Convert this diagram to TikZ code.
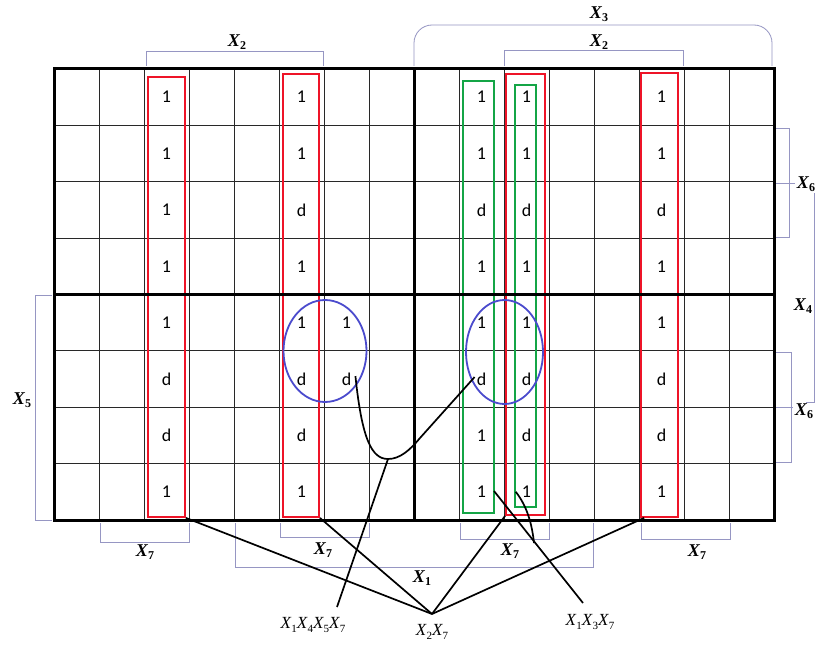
\documentclass[tikz,border=0pt]{standalone}
\usepackage{fontspec}
\usetikzlibrary{shapes.geometric,fit}
\newfontfamily\cellfont{Carlito}
\newfontfamily\labfont{Liberation Serif}
\newcommand{\kvar}[1]{{\labfont\bfseries\itshape X}\kern0.3pt\raisebox{-3.5pt}{\labfont\bfseries\fontsize{12}{12}\selectfont #1}}
\newcommand{\tvar}[1]{{\labfont\itshape X}\kern0.3pt\raisebox{-3.5pt}{\labfont\fontsize{11}{11}\selectfont #1}}
\definecolor{kred}{RGB}{238,20,40}
\definecolor{kgreen}{RGB}{20,165,70}
\definecolor{kblue}{RGB}{75,75,205}
\definecolor{kbrk}{RGB}{150,150,195}
\definecolor{kgrid}{RGB}{40,40,40}
\begin{document}
\begin{tikzpicture}[x=1pt,y=-1pt,
  thinline/.style={line width=0.9pt, draw=kgrid},
  thickline/.style={line width=3pt, draw=black},
  cell/.style={font=\cellfont\fontsize{18}{18}\selectfont, inner sep=1pt},
  redbox/.style={draw=kred, line width=1.8pt, inner sep=0pt},
  greenbox/.style={draw=kgreen, line width=1.8pt, inner sep=0pt},
  blueoval/.style={draw=kblue, ellipse, line width=1.8pt, inner sep=0pt},
  brk/.style={draw=kbrk, line width=0.8pt},
  lab/.style={font=\fontsize{18}{18}\selectfont, inner sep=1pt},
  termlab/.style={font=\fontsize{17}{17}\selectfont, inner sep=1pt},
  conn/.style={line width=1.7pt, draw=black}]
\useasboundingbox (0,0) rectangle (817,650);
\fill[white] (0,0) rectangle (817,650);

% thin grid
\foreach \i in {1,...,7,9,10,...,15} \draw[thinline] ({54+45*\i},69) -- ({54+45*\i},520);
\foreach \j in {1,2,3,5,6,7} \draw[thinline] (54,{69+56.375*\j}) -- (774,{69+56.375*\j});

% cell entries
\foreach \col/\vals in {2/{1,1,1,1,1,d,d,1},5/{1,1,d,1,1,d,d,1},9/{1,1,d,1,1,d,1,1},10/{1,1,d,1,1,d,d,1},13/{1,1,d,1,1,d,d,1}}{
  \foreach \v [count=\r from 0] in \vals
    \node[cell] (c\col-\r) at ({76.5+45*\col},{69+56.375*(\r+0.5)}) {\v};
}
\node[cell] (c6-4) at ({76.5+45*6},{69+56.375*4.5}) {1};
\node[cell] (c6-5) at ({76.5+45*6},{69+56.375*5.5}) {d};

% group boxes
\node[redbox, fit={(148,77) (185,517)}] (r1) {};
\node[redbox, fit={(283,74) (319,517)}] (r2) {};
\node[redbox, fit={(506,74) (545,515)}] (r3) {};
\node[redbox, fit={(641,73) (678,517)}] (r4) {};
\node[greenbox, fit={(463,81) (494,513)}] (g1) {};
\node[greenbox, fit={(515,85) (536,507)}] (g2) {};
\node[blueoval, minimum width=83pt, minimum height=102pt] (e1) at (325,351) {};
\node[blueoval, minimum width=77pt, minimum height=104pt] (e2) at (504.5,352) {};

% thick lines
\draw[thickline] (414,69) -- (414,520);
\draw[thickline] (54,294.5) -- (774,294.5);
\draw[thickline] (54,69) rectangle (774,520);

% brackets
\draw[brk] (146,66) -- (146,51) -- (323,51) -- (323,66);
\node[lab] (lx2a) at (237,42) {\kvar{2}};
\draw[brk, rounded corners=18pt] (414,66) -- (414,25) -- (772,25) -- (772,66);
\node[lab] (lx3) at (599,14) {\kvar{3}};
\draw[brk] (504,66) -- (504,50) -- (683,50) -- (683,66);
\node[lab] (lx2b) at (599,42) {\kvar{2}};
\draw[brk] (776,128) -- (789,128) -- (789,237) -- (776,237);
\draw[brk] (776,183) -- (795,183);
\node[lab] (lx6a) at (806,184) {\kvar{6}};
\draw[brk] (814,193) -- (814,402) -- (806,402);
\node[lab] (lx4) at (803,306) {\kvar{4}};
\draw[brk] (776,352) -- (791,352) -- (791,462) -- (776,462);
\draw[brk] (776,407) -- (793,407);
\node[lab] (lx6b) at (804,411) {\kvar{6}};
\draw[brk] (52,295) -- (35,295) -- (35,520) -- (52,520);
\node[lab] (lx5) at (22,400) {\kvar{5}};
\draw[brk] (100,523) -- (100,542) -- (189,542) -- (189,523);
\node[lab] (lx7a) at (145,552) {\kvar{7}};
\draw[brk] (280,523) -- (280,537) -- (369,537) -- (369,523);
\node[lab] (lx7b) at (323,550) {\kvar{7}};
\draw[brk] (460,523) -- (460,539) -- (549,539) -- (549,523);
\node[lab] (lx7c) at (510,551) {\kvar{7}};
\draw[brk] (641,523) -- (641,539) -- (730,539) -- (730,523);
\node[lab] (lx7d) at (697,552) {\kvar{7}};
\draw[brk] (235,523) -- (235,567) -- (593,567) -- (593,523);
\node[lab] (lx1) at (422,578) {\kvar{1}};

% term labels and connectors
\node[termlab] (t27) at (432,632) {\tvar{2}\tvar{7}};
\node[termlab] (t1457) at (313,625) {\tvar{1}\tvar{4}\tvar{5}\tvar{7}};
\node[termlab] (t137) at (590,622) {\tvar{1}\tvar{3}\tvar{7}};
\coordinate (apex) at (432,614);
\draw[conn] (apex) -- (r1.south east);
\draw[conn] (apex) -- (r2.south east);
\draw[conn] (apex) -- (r3.south west);
\draw[conn] (apex) -- ([xshift=4pt]r4.south west);

\coordinate (s1) at (337,607);
\coordinate (j1) at (388,459);
\draw[conn] (s1) -- (j1);
\draw[conn] ([shift={(3pt,3pt)}]c6-5.east) .. controls (362,440) and (372,459) .. (j1)
   .. controls (400,459) and (410,450) .. (420,438) -- ([shift={(-1pt,2pt)}]c9-5.west);

\coordinate (s3) at (583,603);
\coordinate (k1) at (494,491);
\coordinate (k2) at (534,543);
\draw[conn] (s3) -- (k1);
\draw[conn] ([xshift=-5pt]c10-7.west) .. controls (527,506) and (532,524) .. (k2);
\end{tikzpicture}
\end{document}
